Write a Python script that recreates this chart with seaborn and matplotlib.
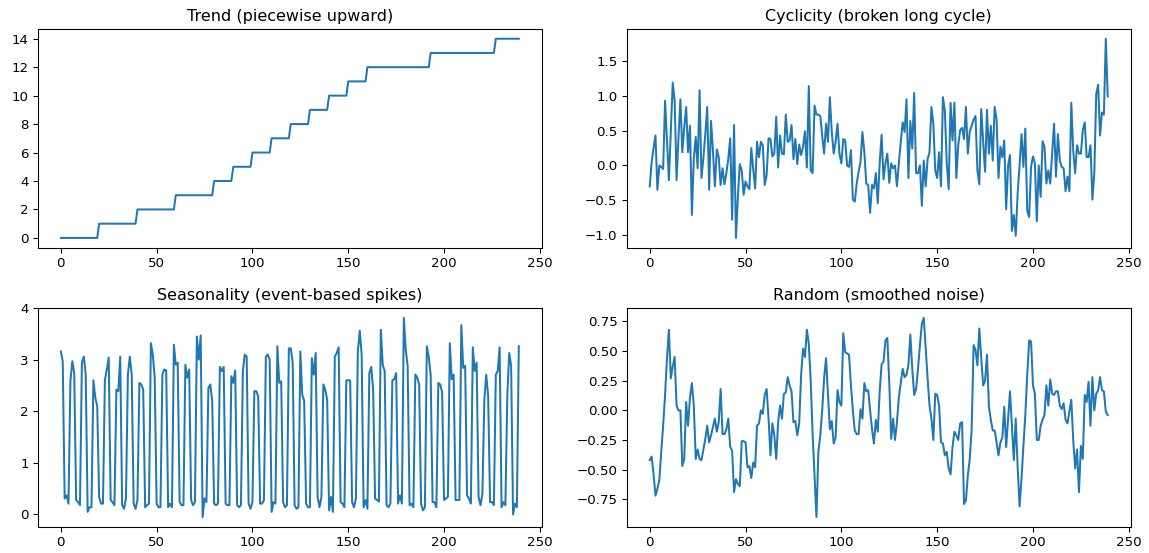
import numpy as np
import matplotlib
matplotlib.use("Agg")
import matplotlib.pyplot as plt
from matplotlib.ticker import MultipleLocator
import seaborn as sns

titles = ["Trend (piecewise upward)", "Cyclicity (broken long cycle)",
          "Seasonality (event-based spikes)", "Random (smoothed noise)"]

trend_levels = [0, 1, 2, 3, 4, 5, 6, 7, 8, 9, 10, 11, 12, 13, 14]
trend_lengths = [20, 20, 20, 20, 10, 10, 10, 10, 10, 10, 10, 10, 33, 34, 13]

cyclicity = [
    -0.30, 0.05, 0.25, 0.43, -0.35, 0.00, -0.02, -0.05, 0.93, 0.35,
    -0.21, 0.50, 1.19, 0.93, -0.21, 0.40, 0.95, 0.19, 0.55, 0.84,
    0.19, 0.57, -0.71, 0.10, 0.41, -0.04, 1.08, -0.18, 0.11, 0.45,
    0.84, -0.35, 0.64, 0.20, -0.30, 0.23, 0.12, -0.28, -0.04, -0.27,
    -0.11, 0.10, 0.39, -0.78, 0.58, -1.04, -0.45, 0.02, -0.07, -0.42,
    -0.23, -0.30, -0.34, 0.25, -0.05, -0.33, 0.34, 0.12, 0.34, 0.29,
    -0.28, -0.14, 0.39, 0.38, 0.13, 0.17, 0.70, -0.03, 0.43, 0.17,
    0.16, 0.73, 0.34, 0.36, 0.58, 0.09, 0.38, 0.02, 0.30, 0.15,
    0.27, 0.49, -0.03, 1.14, -0.07, -0.11, 0.86, 0.73, 0.73, 0.71,
    0.43, 0.17, 0.60, 0.34, 0.98, 0.48, 0.17, 0.34, 0.60, 0.17,
    0.03, 0.38, 0.36, 0.00, -0.02, 0.22, -0.49, -0.52, -0.26, -0.09,
    0.05, 0.48, 0.19, -0.26, -0.28, -0.68, -0.28, -0.33, -0.11, -0.54,
    0.03, 0.44, -0.20, 0.03, 0.17, -0.25, 0.03, -0.04, 0.00, -0.30,
    0.03, 0.34, 0.62, 0.48, 0.95, -0.18, 0.64, 0.24, 1.04, -0.11,
    -0.11, 0.00, -0.58, 0.07, -0.30, 0.09, 0.19, 0.84, 0.60, -0.07,
    -0.18, 0.19, -0.30, 0.98, 0.79, 0.03, -0.34, 0.90, 0.36, 0.90,
    -0.18, 0.29, 0.51, 0.54, 0.38, 0.84, 0.17, 0.49, 0.57, 0.66,
    0.71, -0.07, -0.27, 0.81, 0.34, -0.09, 0.80, 0.17, 0.57, 0.07,
    0.84, 0.66, -0.18, 0.27, 0.12, 0.36, -0.63, 0.00, 0.15, -0.94,
    -0.71, -1.01, -0.40, 0.00, 0.45, -0.02, 0.53, -0.65, -0.74, -0.02,
    0.13, 0.03, -0.80, 0.00, -0.45, 0.35, 0.27, -0.26, -0.07, -0.26,
    0.17, 0.60, -0.16, 0.45, 0.07, -0.02, -0.04, -0.37, -0.16, -0.37,
    0.90, 0.21, -0.11, 0.29, 0.17, 0.17, 0.51, 0.62, 0.12, 0.12,
    0.29, -0.49, -0.11, 1.02, 1.16, 0.43, 0.76, 0.73, 1.82, 0.99,
]

seasonality = [
    3.16, 2.97, 0.31, 0.37, 0.21, 2.58, 2.97, 2.74, 0.28, 0.24,
    0.18, 2.94, 3.06, 2.71, 0.05, 0.14, 0.14, 2.60, 2.26, 2.10,
    0.34, 0.21, 0.21, 2.60, 2.81, 3.04, 0.28, 0.24, 0.18, 2.42,
    2.39, 3.06, 0.18, 0.11, 0.31, 2.71, 3.06, 2.71, 0.21, 0.11,
    0.28, 2.55, 2.52, 2.42, 0.14, 0.18, 0.21, 3.32, 3.10, 2.65,
    0.21, 0.14, 0.14, 2.71, 2.81, 2.79, 0.14, 0.21, 0.14, 3.29,
    2.90, 2.94, 0.24, 0.18, 0.18, 2.90, 2.65, 2.81, 0.28, 0.18,
    0.24, 3.45, 3.00, 3.47, -0.05, 0.31, 0.24, 2.45, 2.52, 2.20,
    0.21, 0.18, 0.21, 2.86, 2.78, 2.86, 0.21, 0.18, 0.18, 2.68,
    2.55, 2.79, 0.18, 0.14, 0.18, 2.78, 3.10, 3.06, 0.21, 0.11,
    0.24, 2.39, 2.39, 2.29, 0.21, 0.21, 0.28, 3.06, 3.10, 3.00,
    0.05, 0.24, 0.21, 3.26, 2.55, 2.58, 0.24, 0.14, 0.18, 3.22,
    3.22, 2.94, 0.18, 0.11, 0.14, 3.16, 2.32, 2.20, 0.21, 0.14,
    0.14, 3.03, 2.71, 3.13, 0.34, 0.14, 0.34, 2.52, 2.42, 2.22,
    0.08, 0.34, 0.05, 3.06, 3.13, 3.24, 0.24, 0.21, 0.14, 2.60,
    2.60, 2.60, 0.24, 0.14, 0.31, 3.16, 3.56, 3.10, 0.14, 0.28,
    0.11, 2.74, 2.86, 2.40, 0.31, 0.28, 0.25, 3.58, 2.90, 2.78,
    0.18, 0.14, 0.21, 2.60, 2.62, 2.74, 0.21, 0.37, 0.21, 3.81,
    3.19, 2.88, 0.18, 0.21, 0.14, 2.71, 2.65, 2.52, 0.21, 0.08,
    0.14, 3.26, 3.06, 2.71, 0.24, 0.24, 0.14, 2.55, 2.52, 2.36,
    0.28, 0.31, 0.34, 3.32, 2.62, 2.71, 0.28, 0.28, 0.28, 3.67,
    2.84, 2.88, 0.37, 0.31, 0.21, 3.24, 2.78, 2.94, 0.34, 0.18,
    0.40, 2.20, 2.71, 2.30, 0.24, 0.24, 0.18, 2.71, 2.78, 3.24,
    0.14, 0.24, 0.18, 2.30, 3.13, 2.88, 0.00, 0.21, 0.14, 3.26,
]

random_noise = [
    -0.42, -0.39, -0.54, -0.72, -0.66, -0.59, -0.35, -0.13, 0.13, 0.44,
    0.68, 0.27, 0.37, 0.45, 0.04, 0.00, 0.00, -0.47, -0.41, 0.07,
    -0.13, 0.11, 0.23, 0.04, -0.41, -0.33, -0.41, -0.42, -0.33, -0.24,
    -0.13, -0.27, -0.21, -0.14, -0.07, -0.18, -0.10, 0.18, -0.20, -0.20,
    -0.16, -0.07, -0.31, -0.34, -0.69, -0.58, -0.62, -0.64, -0.26, -0.26,
    -0.27, -0.48, -0.47, -0.57, -0.44, -0.48, -0.13, -0.11, 0.00, -0.03,
    0.13, 0.18, -0.07, -0.38, -0.11, -0.21, -0.41, -0.10, 0.04, -0.07,
    0.14, 0.15, 0.28, 0.21, 0.16, -0.10, -0.09, -0.21, -0.11, 0.30,
    0.52, 0.45, 0.68, 0.56, 0.25, -0.20, -0.55, -0.90, -0.35, -0.21,
    0.00, 0.27, 0.44, 0.14, -0.16, -0.09, -0.28, -0.23, 0.17, 0.07,
    0.04, 0.65, 0.49, 0.48, 0.47, 0.21, 0.00, -0.17, -0.20, -0.20,
    0.01, -0.07, 0.23, 0.16, 0.17, 0.00, -0.16, -0.28, -0.08, -0.18,
    0.16, 0.39, 0.41, 0.59, 0.61, 0.23, -0.24, -0.07, -0.25, -0.10,
    0.11, 0.23, 0.35, 0.28, 0.30, 0.38, 0.64, 0.35, 0.13, 0.18,
    0.35, 0.55, 0.73, 0.78, 0.52, 0.27, 0.04, -0.07, -0.25, 0.14,
    0.13, 0.04, -0.27, -0.28, -0.38, -0.35, -0.49, -0.54, -0.31, -0.18,
    -0.21, -0.25, -0.11, -0.10, -0.79, -0.76, -0.55, -0.41, -0.16, 0.55,
    0.51, 0.38, 0.69, 0.44, 0.21, 0.25, 0.47, 0.03, -0.08, -0.17,
    -0.17, -0.27, -0.38, -0.27, -0.23, 0.03, -0.31, -0.08, 0.16, -0.13,
    -0.42, -0.07, -0.48, -0.81, -0.58, -0.30, -0.04, 0.30, 0.59, 0.58,
    0.21, 0.14, -0.25, -0.25, -0.13, -0.08, -0.04, 0.21, 0.04, 0.26,
    0.14, 0.13, 0.16, 0.16, 0.04, 0.01, 0.06, -0.08, -0.11, -0.01,
    0.09, -0.25, -0.49, -0.33, -0.69, -0.30, -0.41, 0.13, 0.07, 0.24,
    -0.13, 0.28, 0.00, 0.14, 0.17, 0.28, 0.17, 0.16, -0.01, -0.04,
]

y_steps = [2, 0.5, 1, 0.25]

trend = np.repeat(trend_levels, trend_lengths)
series = [trend, np.array(cyclicity), np.array(seasonality), np.array(random_noise)]

DPI = 96
fig, axes = plt.subplots(2, 2, figsize=(1149 / DPI, 553 / DPI), dpi=DPI)
fig.subplots_adjust(left=0.033, right=0.984, bottom=0.047, top=0.948,
                    wspace=0.169, hspace=0.274)

for ax, title, vals, step in zip(axes.flat, titles, series, y_steps):
    idx = np.arange(len(vals))
    sns.lineplot(x=idx, y=vals, ax=ax, color="#1f77b4", linewidth=1.5)
    ax.set_title(title, fontsize=12)
    ax.set_xlabel("")
    ax.set_ylabel("")
    ax.yaxis.set_major_locator(MultipleLocator(step))

fig.savefig("out.png", dpi=DPI)
